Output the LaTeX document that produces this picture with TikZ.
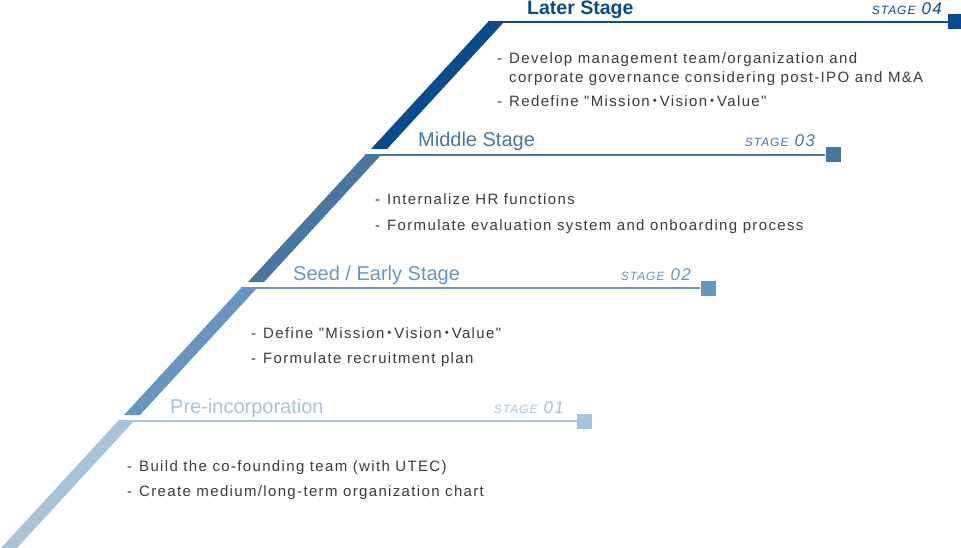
\documentclass[tikz,border=0pt]{standalone}
\usepackage{fontspec}
\setmainfont{Liberation Sans}
\newfontfamily\bodyfont{Liberation Sans}[LetterSpace=9]
\newfontfamily\tagfont{Liberation Sans}[LetterSpace=8]
\newfontfamily\cjk{Noto Sans CJK JP}
\usetikzlibrary{positioning}
\definecolor{stageA}{HTML}{A9C3D9}
\definecolor{stageB}{HTML}{6896C0}
\definecolor{stageC}{HTML}{4A77A0}
\definecolor{stageD}{HTML}{0B4A8B}
\definecolor{bodytext}{HTML}{3A3A44}
\newcommand{\dotsep}{\kern-2.5pt{\cjk ・}\kern-2.5pt}
\newcommand{\bul}{\makebox[12pt][l]{-}}

\begin{document}
\begin{tikzpicture}[
  x=1pt, y=-1pt,
  stageline/.style={line width=1.4pt},
  endsq/.style={rectangle, inner sep=0pt, minimum size=15pt},
  heading/.style={anchor=base west, inner sep=0pt, font=\fontsize{20}{24}\selectfont},
  stagetag/.style={anchor=base east, inner sep=0pt, font=\tagfont\itshape},
  item/.style={anchor=base west, inner sep=0pt, text=bodytext, font=\bodyfont\fontsize{15}{18}\selectfont}
]
\useasboundingbox (0,0) rectangle (961,548);
\clip (0,0) rectangle (961,548);

% diagonal bands
\fill[stageA] (118,421) -- ++(16,0) -- ++(-117,127) -- ++(-16,0) -- cycle;
\fill[stageB] (241,288) -- ++(16,0) -- ++(-117,127) -- ++(-16,0) -- cycle;
\fill[stageC] (365,155) -- ++(16,0) -- ++(-117,127) -- ++(-16,0) -- cycle;
\fill[stageD] (488,22) -- ++(16,0) -- ++(-117,127) -- ++(-16,0) -- cycle;

\coordinate (preCorner) at (118,421);
\coordinate (seedCorner) at (241,288);
\coordinate (midCorner) at (365,155);
\coordinate (lateCorner) at (488,22);

% end squares
\node[endsq, fill=stageA] (preEnd) at (584.5,421) {};
\node[endsq, fill=stageB] (seedEnd) at (708,288) {};
\node[endsq, fill=stageC] (midEnd) at (833,155) {};
\node[endsq, fill=stageD] (lateEnd) at (955.5,22) {};

\draw[stageline, stageA] (preCorner) -- (preEnd.west);
\draw[stageline, stageB] (seedCorner) -- (seedEnd.west);
\draw[stageline, stageC] (midCorner) -- (midEnd.west);
\draw[stageline, stageD] (lateCorner) -- (lateEnd.west);

% headings
\node[heading, text=stageA] (preHead) at (170,413) {Pre-incorporation};
\node[heading, text=stageB] (seedHead) at (293,280) {Seed / Early Stage};
\node[heading, text=stageC] (midHead) at (418,147) {Middle Stage};
\node[heading, text=stageD, font=\fontsize{19.5}{24}\selectfont\bfseries] (lateHead) at (527,15) {Later Stage};

\node[stagetag, text=stageA] (preTag) at (564,413) {\fontsize{12}{14}\selectfont STAGE\hspace{6pt}\fontsize{17}{19}\selectfont 01};
\node[stagetag, text=stageB] (seedTag) at (691,280) {\fontsize{12}{14}\selectfont STAGE\hspace{6pt}\fontsize{17}{19}\selectfont 02};
\node[stagetag, text=stageC] (midTag) at (815,147) {\fontsize{12}{14}\selectfont STAGE\hspace{6pt}\fontsize{17}{19}\selectfont 03};
\node[stagetag, text=stageD] (lateTag) at (942,15) {\fontsize{12}{14}\selectfont STAGE\hspace{6pt}\fontsize{17}{19}\selectfont 04};

% stage texts
\node[item] (preA) at (127,471) {\bul Build the co-founding team (with UTEC)};
\node[item] (preB) at (127,496) {\bul Create medium/long-term organization chart};

\node[item] (seedA) at (251,338) {\bul Define "Mission\dotsep Vision\dotsep Value"};
\node[item] (seedB) at (251,363) {\bul Formulate recruitment plan};

\node[item] (midA) at (375,205) {\bul Internalize HR functions};
\node[item] (midB) at (375,230) {\bul Formulate evaluation system and onboarding process};

\node[item] (lateA) at (497,64) {\bul Develop management team/organization and};
\node[item] (lateB) at (509,83) {corporate governance considering post-IPO and M\&A};
\node[item] (lateC) at (497,107) {\bul Redefine "Mission\dotsep Vision\dotsep Value"};

\end{tikzpicture}
\end{document}
